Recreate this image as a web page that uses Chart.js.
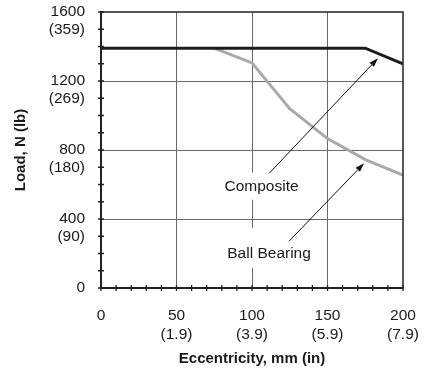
<!DOCTYPE html>
<html><head><meta charset="utf-8">
<script src="https://cdn.jsdelivr.net/npm/chart.js@4"></script>
<style>html,body{margin:0;padding:0;background:#fff}#wrap{width:434px;height:368px}</style>
</head><body><div id="wrap"><canvas id="c"></canvas></div>
<script>
// ---- data ----
const xTickValues = [0, 50, 100, 150, 200];
const xTickLabels = [["0"], ["50", "(1.9)"], ["100", "(3.9)"], ["150", "(5.9)"], ["200", "(7.9)"]];
const yTickValues = [0, 400, 800, 1200, 1600];
const yTickLabels = ["0", ["", "400", "(90)"], ["", "800", "(180)"], ["", "1200", "(269)"], ["", "1600", "(359)"]];
const compositeX = [0, 175, 200];
const compositeY = [1390, 1390, 1300];
const ballX = [75, 100, 125, 150, 175, 200];
const ballY = [1390, 1305, 1040, 866, 744, 655];
const annotationTexts = ["Composite", "Ball Bearing"];
const annotationTextX = [106.3, 111.3];
const annotationTextY = [590, 198];
const arrowFromX = [111.3, 124.5];
const arrowFromY = [664, 271];
const arrowToX = [183.4, 174.2];
const arrowToY = [1332, 723];
const xTitle = "Eccentricity, mm (in)";
const yTitle = "Load, N (lb)";

const FONT = "'Liberation Sans', Arial, sans-serif";
const toPts = (xs, ys) => xs.map((x, i) => ({x: x, y: ys[i]}));

const extras = {
  id: 'extras',
  afterDatasetsDraw(chart) {
    const ctx = chart.ctx, a = chart.chartArea;
    const xs = chart.scales.x, ys = chart.scales.y;
    ctx.save();
    // frame
    ctx.strokeStyle = '#222'; ctx.lineWidth = 1.5;
    ctx.strokeRect(a.left, a.top, a.right - a.left, a.bottom - a.top);
    ctx.lineWidth = 2;
    ctx.beginPath(); ctx.moveTo(a.left, a.top); ctx.lineTo(a.left, a.bottom); ctx.lineTo(a.right, a.bottom); ctx.stroke();
    // tick marks
    ctx.lineWidth = 1.3;
    ctx.beginPath();
    xs.ticks.forEach(t => { const px = xs.getPixelForValue(t.value); ctx.moveTo(px, a.bottom - 3); ctx.lineTo(px, a.bottom + 3); });
    ys.ticks.forEach(t => { const py = ys.getPixelForValue(t.value); ctx.moveTo(a.left - 3, py); ctx.lineTo(a.left + 3, py); });
    ctx.stroke();
    // annotation text with white background
    ctx.font = "15.5px " + FONT;
    ctx.textAlign = 'center'; ctx.textBaseline = 'middle';
    const halfH = [13.5, 20], offY = [0, -6];
    annotationTexts.forEach((txt, i) => {
      const px = xs.getPixelForValue(annotationTextX[i]);
      const py = ys.getPixelForValue(annotationTextY[i]);
      const w = ctx.measureText(txt).width;
      ctx.fillStyle = '#fff';
      ctx.fillRect(px - w / 2 - 4, py + offY[i] - halfH[i], w + 8, halfH[i] * 2);
      ctx.fillStyle = '#1a1a1a';
      ctx.fillText(txt, px, py);
    });
    // arrows
    ctx.strokeStyle = '#111'; ctx.fillStyle = '#111'; ctx.lineWidth = 1;
    arrowFromX.forEach((_, i) => {
      const x1 = xs.getPixelForValue(arrowFromX[i]), y1 = ys.getPixelForValue(arrowFromY[i]);
      const x2 = xs.getPixelForValue(arrowToX[i]), y2 = ys.getPixelForValue(arrowToY[i]);
      const ang = Math.atan2(y2 - y1, x2 - x1);
      const L = 9, W = 3;
      const bx = x2 - L * Math.cos(ang), by = y2 - L * Math.sin(ang);
      ctx.beginPath(); ctx.moveTo(x1, y1); ctx.lineTo(bx, by); ctx.stroke();
      ctx.beginPath();
      ctx.moveTo(x2, y2);
      ctx.lineTo(bx + W * Math.sin(ang), by - W * Math.cos(ang));
      ctx.lineTo(bx - W * Math.sin(ang), by + W * Math.cos(ang));
      ctx.closePath(); ctx.fill();
    });
    ctx.restore();
  }
};

new Chart(document.getElementById('c'), {
  type: 'line',
  data: {
    datasets: [
      {label: 'Composite', data: toPts(compositeX, compositeY), borderColor: '#1c1c1c', borderWidth: 3, pointRadius: 0, tension: 0, order: 1},
      {label: 'Ball Bearing', data: toPts(ballX, ballY), borderColor: '#a9a9a9', borderWidth: 3, pointRadius: 0, tension: 0, order: 2}
    ]
  },
  options: {
    responsive: true, maintainAspectRatio: false, animation: false,
    layout: {padding: {left: 12, top: 12, right: 31, bottom: 0}},
    plugins: {legend: {display: false}, tooltip: {enabled: false}},
    scales: {
      x: {
        type: 'linear', min: 0, max: 200,
        afterFit(s) { s.height = 80; s.paddingLeft = 0; s.paddingRight = 0; },
        border: {display: false},
        grid: {drawTicks: false, color: c => (xTickValues.includes(c.tick.value) && c.tick.value !== 0 && c.tick.value !== 200) ? '#6a6a6a' : 'rgba(0,0,0,0)', lineWidth: 1},
        ticks: {
          stepSize: 10, autoSkip: false, maxRotation: 0, padding: 18, color: '#1a1a1a',
          font: {family: FONT, size: 15.5, lineHeight: 1.22},
          callback: v => { const i = xTickValues.indexOf(v); return i >= 0 ? xTickLabels[i] : ''; }
        },
        title: {display: true, text: xTitle, color: '#1a1a1a', padding: 0, font: {family: FONT, size: 15, weight: 'bold'}}
      },
      y: {
        type: 'linear', min: 0, max: 1600,
        afterFit(s) { s.width = 89; s.paddingTop = 0; s.paddingBottom = 0; },
        border: {display: false},
        grid: {drawTicks: false, color: c => (yTickValues.includes(c.tick.value) && c.tick.value !== 0 && c.tick.value !== 1600) ? '#6a6a6a' : 'rgba(0,0,0,0)', lineWidth: 1},
        ticks: {
          stepSize: 100, autoSkip: false, padding: 16, color: '#1a1a1a',
          font: {family: FONT, size: 15.5, lineHeight: 1.16},
          callback: v => { const i = yTickValues.indexOf(v); return i >= 0 ? yTickLabels[i] : ''; }
        },
        title: {display: true, text: yTitle, color: '#1a1a1a', padding: 0, font: {family: FONT, size: 15, weight: 'bold'}}
      }
    }
  },
  plugins: [extras]
});
</script>
</body></html>
